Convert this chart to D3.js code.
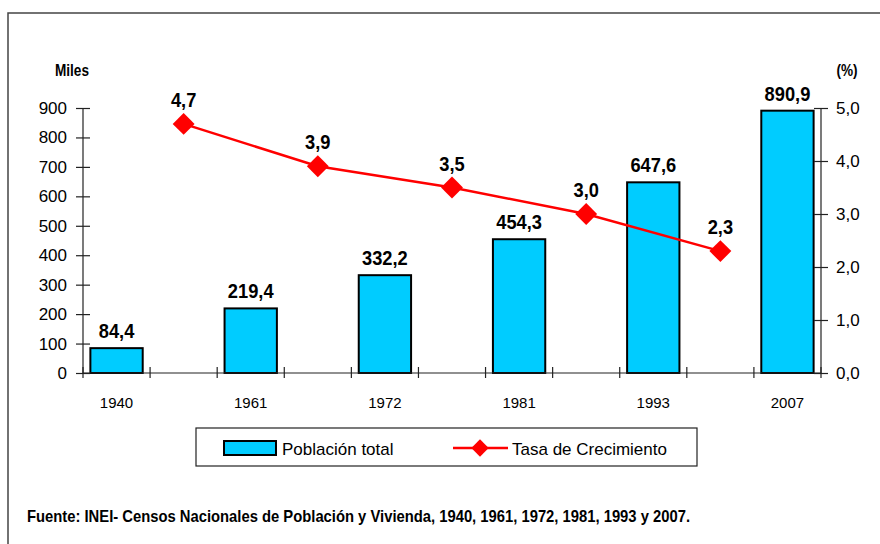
<!DOCTYPE html>
<html><head><meta charset="utf-8">
<script src="https://cdn.jsdelivr.net/npm/d3@7"></script>
<style>
html,body{margin:0;padding:0;background:#fff;}
svg{display:block;font-family:"Liberation Sans",Arial,sans-serif;}
</style></head>
<body>
<svg id="c" width="880" height="544"></svg>
<script>
// ---- data ----
const years = ["1940","1961","1972","1981","1993","2007"];
const poblacion = [84.4, 219.4, 332.2, 454.3, 647.6, 890.9];
const tasa = [4.7, 3.9, 3.5, 3.0, 2.3];
const leftTicks = [0,100,200,300,400,500,600,700,800,900];
const rightTicks = [0,1,2,3,4,5];
const leftUnit = "Miles";
const rightUnit = "(%)";
const legendLabels = ["Población total", "Tasa de Crecimiento"];
const sourceText = "Fuente: INEI- Censos Nacionales de Población y Vivienda, 1940, 1961, 1972, 1981, 1993 y 2007.";

(function () {
const loc = d3.formatLocale({decimal: ",", thousands: ".", grouping: [3], currency: ["", ""]});
const f1 = loc.format(".1f");

const svg = d3.select("#c");
const pLeft = 83, pRight = 821, pTop = 108, pBottom = 373;

// condense bold text horizontally
function condense(sel, k) {
  sel.each(function () {
    const w = this.getComputedTextLength();
    d3.select(this).attr("textLength", w * k).attr("lengthAdjust", "spacingAndGlyphs");
  });
}

// slots: years interleaved with intervals
const slots = [];
years.forEach((y, i) => { slots.push(y); if (i < years.length - 1) slots.push(y + "-" + years[i+1]); });
const intervals = slots.filter(s => s.includes("-"));

const x = d3.scaleBand().domain(slots).range([pLeft, pRight]).paddingInner(0).paddingOuter(0);
const yL = d3.scaleLinear().domain([0, 900]).range([pBottom, pTop]);
const yR = d3.scaleLinear().domain([0, 5]).range([pBottom, pTop]);
const bw = x.bandwidth() * 0.78;

// frame
svg.append("path").attr("d", "M8,544 L8,13 L880,13").attr("fill", "none").attr("stroke", "#444").attr("stroke-width", 1.5);

// bars
svg.append("g").selectAll("rect").data(years).join("rect")
  .attr("x", (d) => x(d) + (x.bandwidth() - bw) / 2)
  .attr("y", (d, i) => yL(poblacion[i]))
  .attr("width", bw)
  .attr("height", (d, i) => yL(0) - yL(poblacion[i]))
  .attr("fill", "#00CCFF").attr("stroke", "#000").attr("stroke-width", 2);

// axes
const axisColor = "#222";
const gL = svg.append("g").attr("transform", `translate(${pLeft},0)`)
  .call(d3.axisLeft(yL).tickValues(leftTicks).tickSize(7).tickFormat(d3.format("d")));
const gR = svg.append("g").attr("transform", `translate(${pRight},0)`)
  .call(d3.axisRight(yR).tickValues(rightTicks).tickSize(7).tickFormat(f1));
[gL, gR].forEach(g => {
  g.select(".domain").attr("stroke", axisColor).attr("stroke-width", 1.2).attr("d", `M0,${pBottom}V${pTop}`);
  g.selectAll(".tick line").attr("stroke", axisColor).attr("stroke-width", 1.2);
  g.selectAll(".tick text").attr("font-size", 17).attr("fill", "#000")
    .attr("font-family", "'Liberation Sans', Arial, sans-serif");
});
gL.selectAll(".tick line").attr("x1", 7);
gL.selectAll(".tick text").attr("x", -16);
gR.selectAll(".tick line").attr("x1", -7);
gR.selectAll(".tick text").attr("x", 15);

// x axis
const gX = svg.append("g");
gX.append("line").attr("x1", pLeft).attr("x2", pRight).attr("y1", pBottom).attr("y2", pBottom)
  .attr("stroke", axisColor).attr("stroke-width", 1.2);
const bounds = slots.map(s => x(s)).concat([x(slots[slots.length-1]) + x.bandwidth()]);
gX.selectAll("line.t").data(bounds).join("line").attr("class", "t")
  .attr("x1", d => d).attr("x2", d => d).attr("y1", pBottom - 6).attr("y2", pBottom + 5)
  .attr("stroke", axisColor).attr("stroke-width", 1.2);
gX.selectAll("text").data(years).join("text")
  .attr("x", d => x(d) + x.bandwidth() / 2).attr("y", 408)
  .attr("text-anchor", "middle").attr("font-size", 15).text(d => d);

// unit labels
svg.append("text").attr("x", 72).attr("y", 76).attr("text-anchor", "middle")
  .attr("font-size", 16).attr("font-weight", "bold").text(leftUnit).call(condense, 0.85);
svg.append("text").attr("x", 847).attr("y", 76).attr("text-anchor", "middle")
  .attr("font-size", 16).attr("font-weight", "bold").text(rightUnit).call(condense, 0.85);

// line
const lineData = intervals.map((k, i) => ({k, v: tasa[i]}));
svg.append("path").datum(lineData)
  .attr("d", d3.line().x(d => x(d.k) + x.bandwidth() / 2).y(d => yR(d.v)))
  .attr("fill", "none").attr("stroke", "#FF0000").attr("stroke-width", 2.5);
const diamond = d3.symbol().type(d3.symbolSquare).size(240);
svg.append("g").selectAll("path").data(lineData).join("path")
  .attr("d", diamond())
  .attr("transform", d => `translate(${x(d.k) + x.bandwidth() / 2},${yR(d.v)}) rotate(45)`)
  .attr("fill", "#FF0000");

// value labels
svg.append("g").selectAll("text").data(years).join("text")
  .attr("x", d => x(d) + x.bandwidth() / 2)
  .attr("y", (d, i) => yL(poblacion[i]) - 10)
  .attr("text-anchor", "middle").attr("font-size", 21).attr("font-weight", "bold")
  .text((d, i) => f1(poblacion[i])).call(condense, 0.87);
svg.append("g").selectAll("text").data(lineData).join("text")
  .attr("x", d => x(d.k) + x.bandwidth() / 2)
  .attr("y", d => yR(d.v) - 17)
  .attr("text-anchor", "middle").attr("font-size", 21).attr("font-weight", "bold")
  .text(d => f1(d.v)).call(condense, 0.87);

// legend
const lg = svg.append("g");
lg.append("rect").attr("x", 196).attr("y", 428).attr("width", 501).attr("height", 38)
  .attr("fill", "#fff").attr("stroke", "#222").attr("stroke-width", 1.2);
lg.append("rect").attr("x", 224).attr("y", 441).attr("width", 52).attr("height", 14)
  .attr("fill", "#00CCFF").attr("stroke", "#000").attr("stroke-width", 2);
lg.append("text").attr("x", 282).attr("y", 455).attr("font-size", 17).text(legendLabels[0]);
lg.append("line").attr("x1", 453).attr("x2", 508).attr("y1", 448).attr("y2", 448)
  .attr("stroke", "#FF0000").attr("stroke-width", 2.5);
lg.append("path").attr("d", d3.symbol().type(d3.symbolSquare).size(150)())
  .attr("transform", "translate(480,448) rotate(45)").attr("fill", "#FF0000");
lg.append("text").attr("x", 512).attr("y", 455).attr("font-size", 17).text(legendLabels[1]);

// source
svg.append("text").attr("x", 27).attr("y", 522).attr("font-size", 17).attr("font-weight", "bold")
  .attr("textLength", 663).attr("lengthAdjust", "spacingAndGlyphs").text(sourceText);
})();
</script>
</body></html>
